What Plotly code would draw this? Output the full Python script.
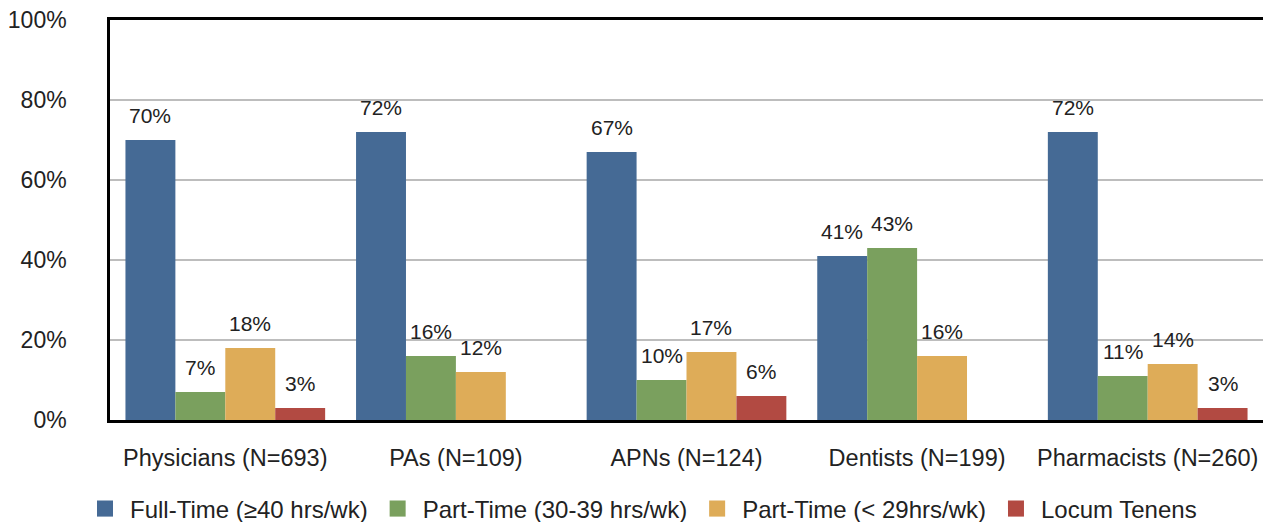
import plotly.graph_objects as go

categories = ["Physicians (N=693)", "PAs (N=109)", "APNs (N=124)", "Dentists (N=199)", "Pharmacists (N=260)"]
series_names = ["Full-Time (≥40 hrs/wk)", "Part-Time (30-39 hrs/wk)", "Part-Time (< 29hrs/wk)", "Locum Tenens"]
full_time = [70, 72, 67, 41, 72]
part_time_30_39 = [7, 16, 10, 43, 11]
part_time_29 = [18, 12, 17, 16, 14]
locum_tenens = [3, None, 6, None, 3]
y_ticks = [0, 20, 40, 60, 80, 100]

series_values = [full_time, part_time_30_39, part_time_29, locum_tenens]
colors = ["#456A95", "#7AA05E", "#DEAC58", "#B24A42"]

FONT = "Liberation Sans, Arial, Helvetica, sans-serif"
TXT = "#222222"

W, H = 1263, 522
ML, MR, MT, MB = 110, 0, 20, 102
plot_w = W - ML - MR
plot_h = H - MT - MB
bargap = 0.134
bar_px = plot_w / len(categories) * (1 - bargap) / len(series_values)

fig = go.Figure()
for name, vals, col in zip(series_names, series_values, colors):
    fig.add_trace(go.Bar(x=categories, y=vals, name=name, marker=dict(color=col, line=dict(width=0)),
                         showlegend=False, hoverinfo="x+y"))
# legend-only entries with larger square symbols
for name, col in zip(series_names, colors):
    fig.add_trace(go.Scatter(x=[None], y=[None], mode="markers", name=name,
                             marker=dict(symbol="square", size=22, color=col)))

annotations = []
n = len(series_values)
for j, vals in enumerate(series_values):
    for cat, v in zip(categories, vals):
        if v is None:
            continue
        annotations.append(dict(x=cat, y=v, xref="x", yref="y", text=f"{v}%", showarrow=False,
                                xshift=(j - (n - 1) / 2) * bar_px, yshift=25, yanchor="middle",
                                font=dict(family=FONT, size=21, color=TXT)))

fig.update_layout(
    width=W, height=H,
    margin=dict(l=ML, r=MR, t=MT, b=MB, autoexpand=False),
    barmode="group", bargap=bargap, bargroupgap=0,
    plot_bgcolor="white", paper_bgcolor="white",
    font=dict(family=FONT, size=22, color=TXT),
    annotations=annotations,
    legend=dict(orientation="h", x=(641 - ML) / plot_w, xanchor="center",
                y=-89 / plot_h, yanchor="middle", itemwidth=40,
                font=dict(family=FONT, size=24, color=TXT), itemclick=False),
    xaxis=dict(showline=True, linecolor="black", linewidth=2.5, mirror=True, automargin=False,
               showgrid=False, ticks="", ticklabelstandoff=15,
               tickfont=dict(family=FONT, size=23.5, color=TXT)),
    yaxis=dict(range=[0, 100], tickvals=y_ticks, ticktext=[f"{t}%" for t in y_ticks],
               showline=True, linecolor="black", linewidth=2.5, automargin=False,
               showgrid=True, gridcolor="#BDBDBD", gridwidth=2, zeroline=False,
               ticks="", ticklabelstandoff=36,
               tickfont=dict(family=FONT, size=23, color=TXT)),
)

fig.write_html("out.html", config={"displayModeBar": False},
               post_script="document.body.style.margin='0';document.body.style.overflow='hidden';")
